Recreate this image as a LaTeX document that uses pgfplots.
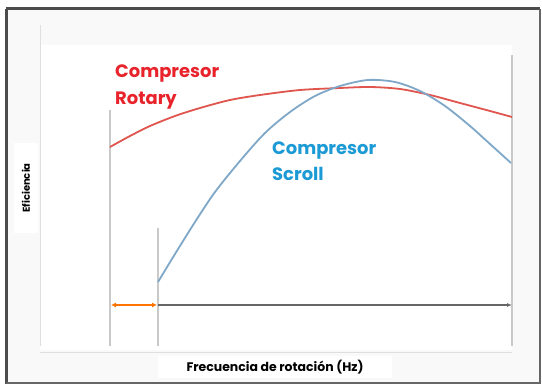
\documentclass[border=0pt]{standalone}
\usepackage{fontspec}
\setmainfont{Poppins}
\usepackage{pgfplots}
\pgfplotsset{compat=1.18}
\usetikzlibrary{arrows.meta}

\definecolor{rotred}{HTML}{E8232B}
\definecolor{scrblue}{HTML}{1B9AD6}
\definecolor{curvered}{HTML}{E0564E}
\definecolor{curveblue}{HTML}{7FA8C8}
\definecolor{guide}{HTML}{C9C9C9}

\begin{document}
\begin{tikzpicture}
\begin{axis}[
    scale only axis,
    width=542bp, height=385bp,
    xmin=0, xmax=542, ymin=0, ymax=385,
    y dir=reverse,
    hide axis,
    clip=false,
]
% frame and background
\fill[white] (axis cs:0,0) rectangle (axis cs:542,385);
\fill[gray!5] (axis cs:7,10) rectangle (axis cs:539,382);
\fill[white] (axis cs:40,45) rectangle (axis cs:512,350);
\draw[line width=3bp, black!70] (axis cs:6,9) -- (axis cs:540,9);
\draw[line width=3bp, black!70] (axis cs:6,9) -- (axis cs:6,384);
\draw[line width=1.5bp, black!60] (axis cs:540,9) -- (axis cs:540,384);
\draw[line width=1.5bp, black!60] (axis cs:6,383) -- (axis cs:540,383);

% guide lines
\addplot[guide!60, line width=1bp] coordinates {(40,25)(40,346)};
\addplot[guide, line width=1.2bp] coordinates {(110,110)(110,346)};
\addplot[guide, line width=1.2bp] coordinates {(158,228)(158,346)};
\addplot[guide, line width=1.2bp] coordinates {(512,55)(512,346)};
\addplot[guide!60, line width=1bp] coordinates {(40,352)(512,352)};

% frequency range arrows
\addplot[black!60, line width=1.3bp, -{Latex[length=5bp,width=4bp]}] coordinates {(158,305)(512,305)};
\addplot[orange!90!red, line width=1.5bp, {Latex[length=5bp,width=5bp]}-{Latex[length=5bp,width=5bp]}] coordinates {(111,305)(157,305)};

% efficiency curves
\addplot[curvered, line width=1.8bp, smooth] coordinates {
  (110,147)(130,136)(150,126)(175,116)(200,108)(230,100)(260,95)(300,90)
  (340,88)(370,87)(400,89)(430,95)(460,103)(490,111)(512,117)};
\addplot[curveblue, line width=1.8bp, smooth] coordinates {
  (158,282)(175,254)(195,222)(215,192)(240,161)(265,133)(290,112)(315,96)
  (340,86)(368,80)(395,82)(420,91)(445,106)(470,126)(490,144)(511,163)};

% labels
\node[anchor=north west, inner sep=3bp, align=left, text=rotred,
      font=\fontsize{18}{27}\selectfont\bfseries] at (axis cs:112,62) {Compresor\\Rotary};
\node[anchor=north west, inner sep=3bp, align=left, text=scrblue,
      font=\fontsize{18}{26}\selectfont\bfseries] at (axis cs:269,139) {Compresor\\Scroll};
\node[fill=white, rotate=90, minimum width=90bp, minimum height=24bp, inner sep=2bp,
      font=\fontsize{10}{12}\selectfont\bfseries] at (axis cs:26,188) {Eficiencia};
\node[fill=white, minimum width=234bp, minimum height=22bp, inner sep=2bp,
      font=\fontsize{12.5}{14}\selectfont\bfseries] at (axis cs:275,367) {Frecuencia de rotación (Hz)};
\end{axis}
\end{tikzpicture}
\end{document}
